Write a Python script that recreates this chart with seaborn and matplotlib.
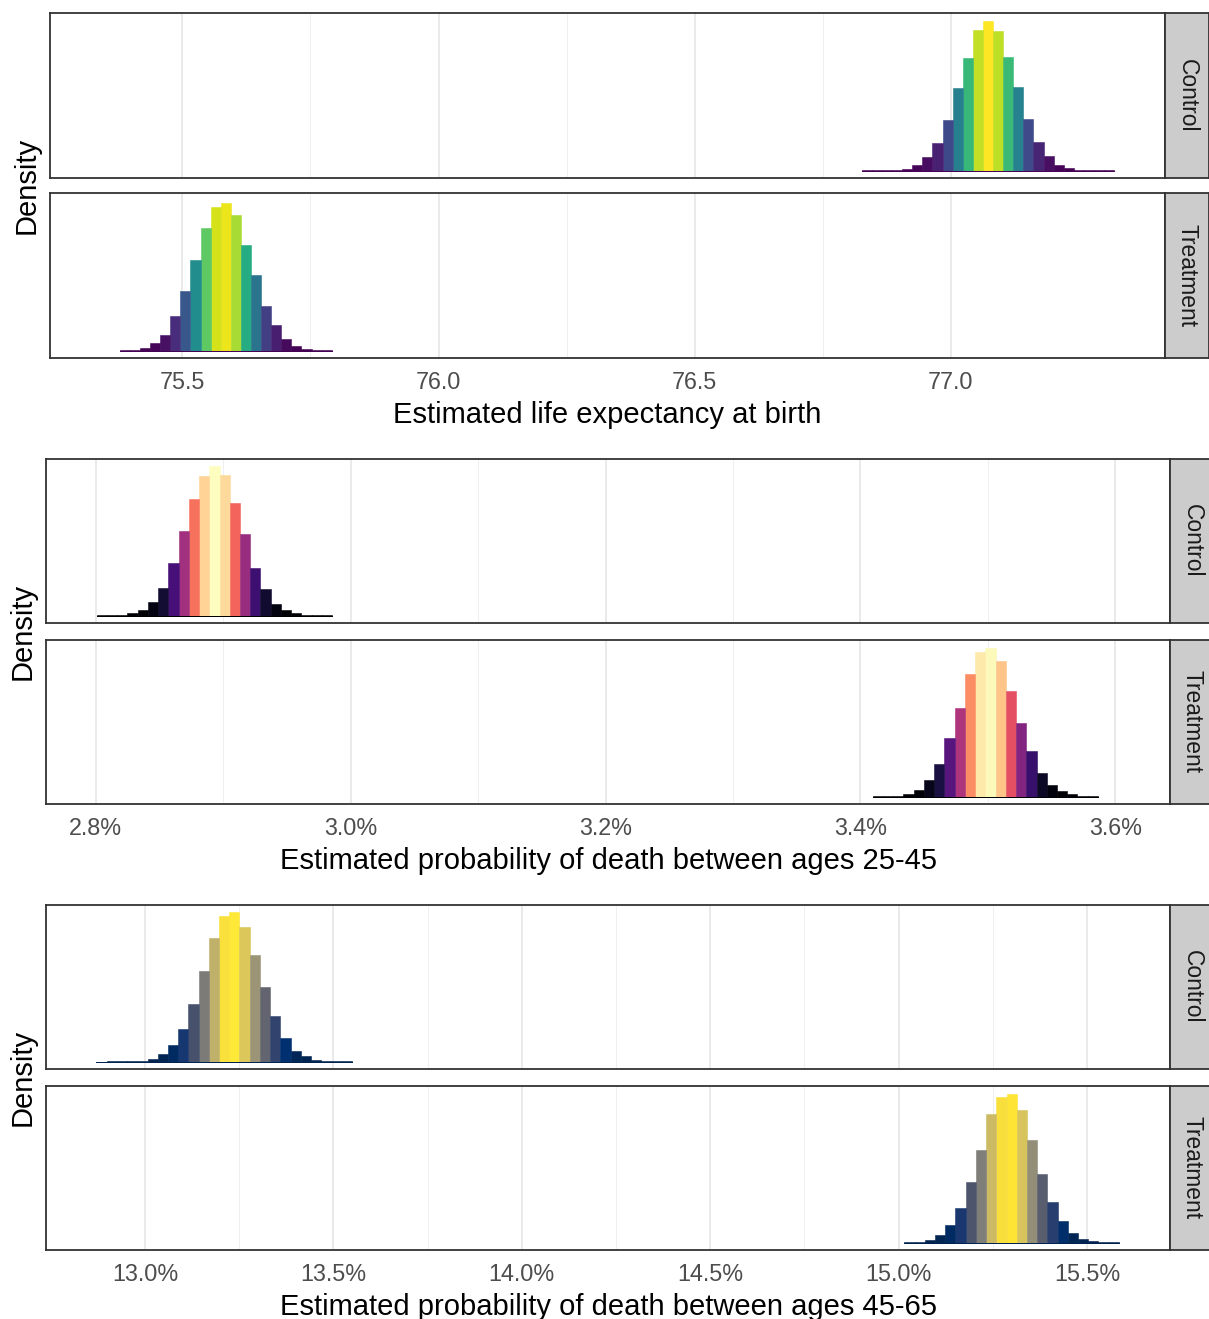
import numpy as np
import pandas as pd
import matplotlib
matplotlib.use("Agg")
import matplotlib.pyplot as plt
from matplotlib.colors import PowerNorm
import seaborn as sns

sns.set_theme(style="white")
plt.rcParams["font.family"] = ["Liberation Sans", "DejaVu Sans"]

# ---------------- data ----------------
panel_names = ["Control", "Treatment"]

# Estimated life expectancy at birth
le_bin_width = 0.0197
le_control_start = 76.826
le_control_heights = [0.1, 0.2, 0.4, 0.7, 5, 18, 41, 83, 153, 248, 340, 423, 453,
                      420, 343, 253, 156, 86, 43, 18, 7, 2, 0.6, 0.3, 0.1]
le_treatment_start = 75.378
le_treatment_heights = [0.3, 0.8, 7, 22, 47, 103, 179, 272, 369, 432, 444, 410,
                        320, 229, 135, 77, 34, 14, 6, 2, 0.5]
le_ticks = [75.5, 76.0, 76.5, 77.0]
le_tick_labels = ["75.5", "76.0", "76.5", "77.0"]

# Probability of death between ages 25-45 (percent)
p25_bin_width = 0.00803
p25_control_start = 2.8008
p25_control_heights = [0.5, 1, 3, 7, 18, 40, 85, 158, 256, 352, 422, 452, 427,
                       342, 247, 145, 80, 36, 17, 7, 3, 1, 0.5]
p25_treatment_start = 3.4097
p25_treatment_heights = [0.5, 1, 2, 8, 21, 51, 99, 179, 269, 371, 437, 449, 412,
                         321, 224, 137, 70, 34, 16, 7, 2, 1]
p25_ticks = [2.8, 3.0, 3.2, 3.4, 3.6]
p25_tick_labels = ["2.8%", "3.0%", "3.2%", "3.4%", "3.6%"]

# Probability of death between ages 45-65 (percent)
p45_bin_width = 0.0271
p45_control_start = 12.8714
p45_control_heights = [0.1, 0.2, 0.4, 0.8, 2, 7, 22, 51, 98, 176, 276, 375, 443,
                       453, 408, 325, 228, 138, 71, 33, 16, 6, 2, 0.5, 0.2]
p45_treatment_start = 15.0154
p45_treatment_heights = [0.4, 1, 8, 22, 53, 104, 185, 282, 390, 442, 450, 404,
                         313, 209, 122, 65, 28, 12, 4, 1.5, 0.5]
p45_ticks = [13.0, 13.5, 14.0, 14.5, 15.0, 15.5]
p45_tick_labels = ["13.0%", "13.5%", "14.0%", "14.5%", "15.0%", "15.5%"]

x_titles = ["Estimated life expectancy at birth",
            "Estimated probability of death between ages 25-45",
            "Estimated probability of death between ages 45-65"]

# ---------------- layout ----------------
W, H = 1209, 1319
fig = plt.figure(figsize=(W / 100, H / 100), dpi=100)


def rect(l, t, r, b):
    return [l / W, 1 - b / H, (r - l) / W, (b - t) / H]


groups = [
    dict(width=le_bin_width,
         panels=[(le_control_start, le_control_heights), (le_treatment_start, le_treatment_heights)],
         ticks=le_ticks, labels=le_tick_labels, cmap="viridis",
         xlim=(75.2419, 77.4176), left=50, right=1165,
         rows=[(13, 178), (193, 358)], title=x_titles[0]),
    dict(width=p25_bin_width,
         panels=[(p25_control_start, p25_control_heights), (p25_treatment_start, p25_treatment_heights)],
         ticks=p25_ticks, labels=p25_tick_labels, cmap="magma",
         xlim=(2.7610, 3.6429), left=46, right=1170,
         rows=[(459, 623), (640, 804)], title=x_titles[1]),
    dict(width=p45_bin_width,
         panels=[(p45_control_start, p45_control_heights), (p45_treatment_start, p45_treatment_heights)],
         ticks=p45_ticks, labels=p45_tick_labels, cmap="cividis",
         xlim=(12.7375, 15.7201), left=46, right=1170,
         rows=[(905, 1069), (1086, 1250)], title=x_titles[2]),
]

border = "#333333"
for g in groups:
    gmax = max(max(h) for _, h in g["panels"])
    majors = list(g["ticks"])
    step = majors[1] - majors[0]
    minors = [m + step / 2 for m in majors[:-1]]
    for j, ((start, heights), (top, bot)) in enumerate(zip(g["panels"], g["rows"])):
        ax = fig.add_axes(rect(g["left"], top, g["right"], bot))
        edges = [float(start + g["width"] * k) for k in range(len(heights) + 1)]
        centers = [(edges[k] + edges[k + 1]) / 2 for k in range(len(heights))]
        df = pd.DataFrame({"value": centers, "density": [float(h) for h in heights]})
        sns.histplot(data=df, x="value", weights="density", hue="density",
                     bins=edges, palette=g["cmap"],
                     hue_norm=PowerNorm(gamma=1.4, vmin=0, vmax=gmax),
                     multiple="layer", element="bars", fill=True, alpha=1,
                     linewidth=0, legend=False, ax=ax)
        for p in ax.patches:
            p.set_edgecolor(p.get_facecolor())
            p.set_linewidth(0.4)
        ax.set_xlim(*g["xlim"])
        ax.set_ylim(-0.05 * gmax, 1.05 * gmax)
        ax.set_xticks(majors)
        ax.set_xticks(minors, minor=True)
        ax.set_yticks([])
        ax.set_xlabel("")
        ax.set_ylabel("")
        ax.set_axisbelow(True)
        ax.grid(axis="x", which="major", color="#E4E4E4", linewidth=1.1)
        ax.grid(axis="x", which="minor", color="#EDEDED", linewidth=0.6)
        ax.grid(axis="y", visible=False)
        for s in ax.spines.values():
            s.set_color(border)
            s.set_linewidth(1.3)
        ax.tick_params(axis="x", which="minor", length=0)
        if j == 0:
            ax.tick_params(axis="x", which="major", length=0, labelbottom=False)
        else:
            ax.set_xticklabels(g["labels"])
            ax.tick_params(axis="x", which="major", length=5, width=1.1,
                           color=border, labelsize=16.8, labelcolor="#4D4D4D", pad=4.5)
        # facet strip
        sax = fig.add_axes(rect(g["right"], top, g["right"] + 44, bot))
        sax.set_facecolor("#CCCCCC")
        sax.set_xticks([])
        sax.set_yticks([])
        for s in sax.spines.values():
            s.set_color(border)
            s.set_linewidth(1.3)
        sax.text(0.5, 0.5, panel_names[j], rotation=270, ha="center", va="center",
                 fontsize=16.4, color="#1A1A1A", transform=sax.transAxes)
    t0, b1 = g["rows"][0][0], g["rows"][1][1]
    fig.text((g["left"] - 23) / W, 1 - (t0 + b1) / 2 / H, "Density", rotation=90,
             ha="center", va="center", fontsize=21, color="black")
    fig.text((g["left"] + g["right"]) / 2 / W, 1 - (b1 + 57) / H, g["title"],
             ha="center", va="center", fontsize=21, color="black")

fig.savefig("out.png", dpi=100, facecolor="white")
